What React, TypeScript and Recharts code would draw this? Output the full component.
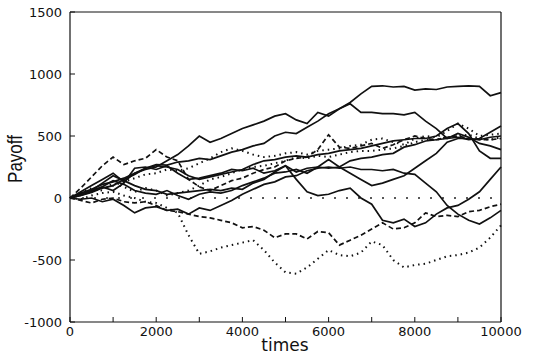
import React from 'react';
import { LineChart, Line, XAxis, YAxis, ReferenceLine } from 'recharts';

// sample times (every 250 steps)
const times = [
  0, 250, 500, 750, 1000, 1250, 1500, 1750, 2000, 2250, 2500, 2750, 3000, 3250, 3500, 3750,
  4000, 4250, 4500, 4750, 5000, 5250, 5500, 5750, 6000, 6250, 6500, 6750, 7000, 7250, 7500,
  7750, 8000, 8250, 8500, 8750, 9000, 9250, 9500, 9750, 10000,
];

const xTicks = [0, 1000, 2000, 3000, 4000, 5000, 6000, 7000, 8000, 9000, 10000];
const yTicks = [-1000, -500, 0, 500, 1000, 1500];

// payoff runs
const runA = [0, 20, 45, 80, 100, 150, 190, 240, 270, 265, 290, 300, 320, 310, 340, 370, 390, 420, 440, 500, 530, 520, 570, 620, 680, 720, 770, 840, 900, 905, 895, 900, 870, 880, 875, 895, 900, 905, 900, 825, 850];
const runB = [0, 40, 70, 110, 130, 160, 200, 230, 250, 300, 350, 420, 500, 450, 480, 520, 560, 590, 620, 660, 680, 630, 600, 690, 660, 720, 760, 690, 690, 680, 680, 670, 690, 620, 560, 480, 520, 490, 440, 420, 390];
const runC = [0, 50, 100, 150, 200, 130, 200, 240, 260, 250, 230, 180, 150, 170, 190, 210, 230, 270, 300, 310, 330, 340, 330, 350, 360, 380, 390, 400, 420, 440, 460, 470, 480, 480, 500, 560, 600, 520, 380, 320, 320];
const runD = [0, 20, 50, 90, 60, 120, 240, 250, 230, 260, 200, 150, 160, 180, 200, 230, 220, 240, 200, 220, 260, 210, 240, 250, 240, 250, 300, 320, 330, 350, 360, 410, 430, 460, 470, 480, 490, 470, 480, 530, 580];
const runE = [0, 30, 60, 120, 180, 140, 100, 70, 60, 30, 40, 50, 60, 70, 60, 80, 70, 120, 150, 210, 260, 150, 50, 20, 30, 60, 80, 0, -50, -180, -200, -170, -230, -200, -130, -80, -60, -10, 50, 150, 250];
const runF = [0, -10, 0, -30, -10, -60, -120, -80, -70, -100, -90, -130, -80, -100, -60, -20, 30, 70, 110, 130, 170, 180, 220, 240, 250, 240, 250, 230, 230, 220, 230, 200, 190, 120, 50, -60, -130, -180, -210, -160, -100];
const runG = [0, 30, 60, 90, 140, 110, 60, 40, 30, 60, 20, -10, 30, 50, 40, 60, 100, 130, 160, 200, 210, 230, 200, 250, 310, 250, 200, 150, 100, 120, 150, 180, 240, 300, 360, 450, 480, 480, 470, 490, 500];
const runH = [0, 80, 170, 260, 330, 270, 300, 320, 390, 330, 300, 150, 90, 60, 100, 140, 160, 200, 230, 250, 300, 320, 330, 390, 510, 410, 400, 420, 440, 400, 430, 470, 500, 480, 470, 490, 500, 480, 470, 470, 480];
const runI = [0, 30, 50, 80, 100, 130, 160, 190, 200, 230, 220, 240, 280, 320, 370, 400, 380, 350, 330, 340, 360, 370, 350, 380, 390, 400, 420, 430, 470, 480, 450, 430, 480, 500, 490, 540, 600, 560, 500, 510, 520];
const runJ = [0, -20, -40, -10, 0, -30, -40, -30, -60, -100, -110, -130, -150, -160, -180, -200, -240, -230, -260, -320, -290, -290, -330, -270, -280, -380, -340, -300, -250, -200, -250, -240, -200, -120, -150, -140, -150, -110, -100, -70, -50];
const runK = [0, -10, 20, 40, 50, 20, 0, -30, -40, -80, -120, -300, -450, -430, -400, -380, -360, -340, -420, -520, -600, -610, -560, -490, -420, -460, -470, -440, -350, -380, -500, -560, -540, -530, -500, -470, -460, -440, -400, -320, -220];
const runL = [0, 40, 80, 60, 120, 90, 50, 80, 60, 20, 40, 60, 100, 150, 170, 200, 230, 250, 260, 280, 300, 330, 320, 340, 330, 350, 370, 380, 380, 390, 400, 420, 450, 470, 470, 490, 500, 510, 480, 470, 490];

const DASHED = '5 3';
const DOTTED = '1.5 4';

const runs = [
  { key: 'a', values: runA, dash: undefined },
  { key: 'b', values: runB, dash: undefined },
  { key: 'c', values: runC, dash: undefined },
  { key: 'd', values: runD, dash: undefined },
  { key: 'e', values: runE, dash: undefined },
  { key: 'f', values: runF, dash: undefined },
  { key: 'g', values: runG, dash: undefined },
  { key: 'h', values: runH, dash: DASHED },
  { key: 'i', values: runI, dash: DOTTED },
  { key: 'j', values: runJ, dash: DASHED },
  { key: 'k', values: runK, dash: DOTTED },
  { key: 'l', values: runL, dash: DOTTED },
];

const data = times.map((t, i) => {
  const row: Record<string, number> = { t };
  runs.forEach(r => { row[r.key] = r.values[i]; });
  return row;
});

const tickStyle = { fontFamily: "'DejaVu Sans', sans-serif", fontSize: 13, fill: '#111' };

export default function App() {
  return (
    <div style={{ position: 'absolute', left: 0, top: 0, width: 552, height: 357, background: '#fff' }}>
      <LineChart width={552} height={357} data={data} margin={{ top: 12, right: 51, bottom: 0, left: 0 }}>
        <XAxis
          dataKey="t"
          type="number"
          domain={[0, 10000]}
          ticks={xTicks}
          tickFormatter={(v: number) => (v % 2000 === 0 ? String(v) : '')}
          height={35}
          tickSize={-5}
          tickMargin={10}
          axisLine={{ stroke: '#111', strokeWidth: 1.2 }}
          tickLine={{ stroke: '#111' }}
          tick={tickStyle}
          interval={0}
        />
        <YAxis
          type="number"
          domain={[-1000, 1500]}
          ticks={yTicks}
          width={70}
          tickSize={-5}
          tickMargin={13}
          axisLine={{ stroke: '#111', strokeWidth: 1.2 }}
          tickLine={{ stroke: '#111' }}
          tick={tickStyle}
          interval={0}
        />
        <ReferenceLine y={1500} stroke="#111" strokeWidth={1} />
        <ReferenceLine x={10000} stroke="#111" strokeWidth={1.2} />
        <ReferenceLine y={0} stroke="#222" strokeWidth={1.6} strokeDasharray="2 10" />
        {runs.map(r => (
          <Line
            key={r.key}
            dataKey={r.key}
            type="linear"
            stroke="#111"
            strokeWidth={r.dash === DOTTED ? 2 : 1.7}
            strokeDasharray={r.dash}
            dot={false}
            isAnimationActive={false}
          />
        ))}
      </LineChart>
      <div
        style={{
          position: 'absolute', left: 15, top: 159, transform: 'translate(-50%, -50%) rotate(-90deg) scaleX(0.85)',
          fontFamily: "'Liberation Sans', Arial, sans-serif", fontSize: 20, lineHeight: '22px', color: '#111',
          whiteSpace: 'nowrap',
        }}
      >
        Payoff
      </div>
      <div
        style={{
          position: 'absolute', left: 285, top: 345, transform: 'translate(-50%, -50%)',
          fontFamily: "'DejaVu Sans', sans-serif", fontSize: 17, lineHeight: '18px', color: '#111', whiteSpace: 'nowrap',
        }}
      >
        times
      </div>
    </div>
  );
}
